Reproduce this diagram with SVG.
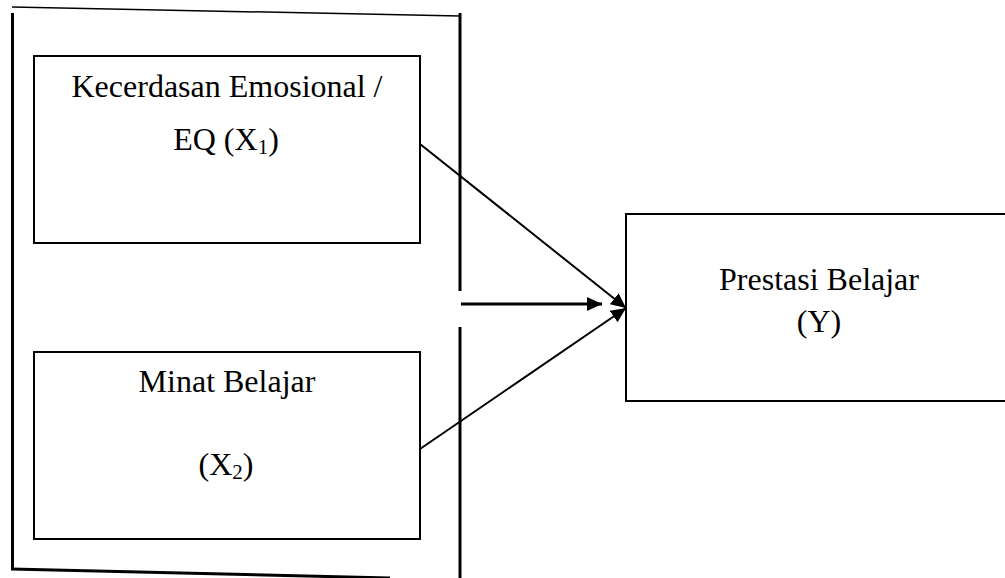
<svg xmlns="http://www.w3.org/2000/svg" width="1005" height="578" viewBox="0 0 1005 578">
<style>
.box{fill:#fff;stroke:#000;stroke-width:2}
.frame{stroke:#000;stroke-width:3;fill:none}
.t{font-family:"Liberation Serif","Times New Roman",serif;font-size:32px;fill:#000;text-anchor:middle}
.sub{font-size:21px}
.conn{stroke:#000;fill:none}
</style>
<defs>
<marker id="ah" markerUnits="userSpaceOnUse" markerWidth="16" markerHeight="14" refX="15" refY="7" orient="auto">
<path d="M0,0 L15,7 L0,14 Z" fill="#000"/>
</marker>
</defs>
<g id="frame">
<line x1="12" y1="7" x2="460" y2="16" stroke="#000" stroke-width="1.5"/>
<line class="frame" x1="12.5" y1="13" x2="12.5" y2="570"/>
<line class="frame" x1="11" y1="569" x2="390" y2="578"/>
<line class="frame" x1="460" y1="13" x2="460" y2="291"/>
<line class="frame" x1="460" y1="327" x2="460" y2="578"/>
</g>
<g id="node-x1">
<rect class="box" x="34" y="56" width="386" height="187"/>
<text class="t" x="227" y="97">Kecerdasan Emosional /</text>
<text class="t" x="226" y="150">EQ (X<tspan class="sub" dy="4">1</tspan><tspan dy="-4">)</tspan></text>
</g>
<g id="node-x2">
<rect class="box" x="34" y="352" width="386" height="187"/>
<text class="t" x="227" y="392">Minat Belajar</text>
<text class="t" x="226" y="475">(X<tspan class="sub" dy="4">2</tspan><tspan dy="-4">)</tspan></text>
</g>
<g id="node-y">
<rect class="box" x="626" y="214" width="381" height="187"/>
<text class="t" x="819" y="290">Prestasi Belajar</text>
<text class="t" x="819" y="332">(Y)</text>
</g>
<g id="connectors">
<line class="conn" stroke-width="2" x1="420" y1="144" x2="626" y2="308" marker-end="url(#ah)"/>
<line class="conn" stroke-width="2" x1="420" y1="449" x2="626" y2="308" marker-end="url(#ah)"/>
<line class="conn" stroke-width="3" x1="461" y1="304" x2="602" y2="304" marker-end="url(#ah)"/>
</g>
</svg>
